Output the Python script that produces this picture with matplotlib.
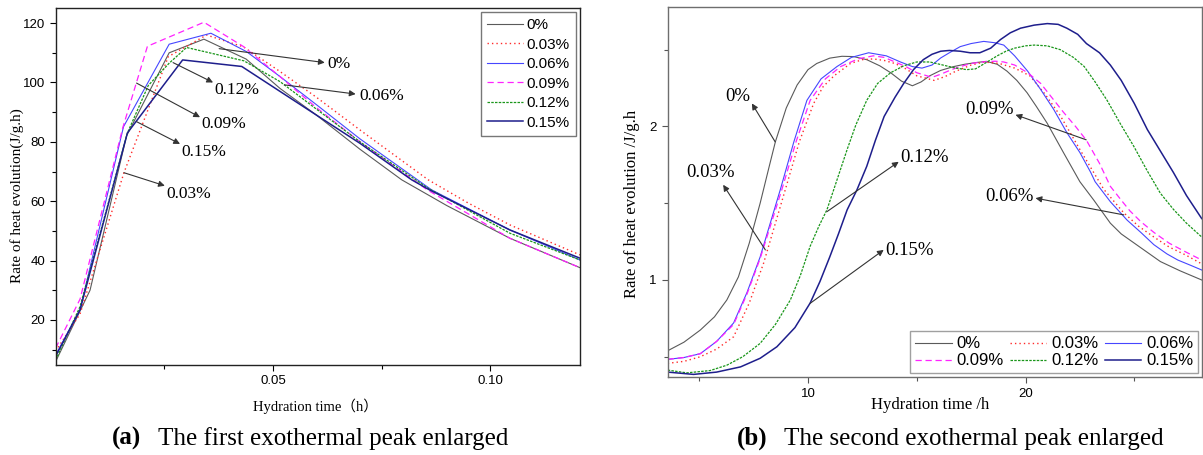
import matplotlib
matplotlib.use('Agg')
import matplotlib.pyplot as plt
from matplotlib.ticker import MultipleLocator, FixedLocator

plt.rcParams['font.family'] = ['Liberation Sans', 'DejaVu Sans']
SERIF = ['Liberation Serif', 'Noto Sans CJK SC', 'DejaVu Serif']

# ---------------- series meta ----------------
LABELS = ['0%', '0.03%', '0.06%', '0.09%', '0.12%', '0.15%']
COLORS = ['#5a5a5a', '#ff2a2a', '#4646ff', '#ff22ff', '#1a961a', '#1e1e8c']
STYLES = ['-', (0, (1, 2.2)), '-', (0, (5, 3)), (0, (2, 1)), '-']
WIDTHS = [0.8, 1.0, 0.8, 0.9, 0.9, 1.1]

# ---------------- (a) first peak ----------------
a00_x = [0.0, 0.0056, 0.0079, 0.0163, 0.0261, 0.0341, 0.0438, 0.0516, 0.060, 0.070, 0.0796, 0.090, 0.1045, 0.1206]
a00_y = [6.0, 23.0, 30.0, 82.0, 110.0, 114.6, 107.9, 98.0, 89.0, 77.5, 67.2, 58.5, 47.5, 37.6]
a03_x = [0.0, 0.0056, 0.0157, 0.0259, 0.0347, 0.0432, 0.0516, 0.060, 0.070, 0.0857, 0.095, 0.1045, 0.1206]
a03_y = [9.5, 22.0, 69.6, 108.7, 116.0, 112.0, 103.7, 95.0, 84.0, 67.2, 59.3, 52.0, 41.9]
a06_x = [0.0, 0.0056, 0.0156, 0.0261, 0.0357, 0.0439, 0.0516, 0.060, 0.070, 0.0865, 0.1045, 0.1206]
a06_y = [8.2, 23.5, 85.1, 112.9, 116.6, 110.4, 102.0, 92.5, 81.0, 63.8, 50.3, 40.2]
a09_x = [0.0, 0.0056, 0.0154, 0.0211, 0.0341, 0.0432, 0.0516, 0.060, 0.070, 0.0855, 0.1045, 0.1206]
a09_y = [10.5, 27.0, 84.6, 112.2, 120.3, 112.1, 102.0, 91.5, 80.0, 63.8, 47.5, 37.6]
a12_x = [0.0, 0.0056, 0.0165, 0.0213, 0.0261, 0.0301, 0.0433, 0.0516, 0.060, 0.070, 0.0855, 0.1045, 0.1206]
a12_y = [6.5, 24.5, 83.0, 99.0, 106.5, 111.8, 107.3, 100.3, 91.0, 80.0, 64.5, 49.2, 40.2]
a15_x = [0.0, 0.0056, 0.0165, 0.0292, 0.0428, 0.0516, 0.060, 0.070, 0.0819, 0.0860, 0.1045, 0.1206]
a15_y = [7.8, 23.4, 83.0, 107.6, 105.4, 97.0, 89.0, 79.5, 67.2, 63.8, 50.3, 40.8]

# labels in (a): text, arrow tail (on curve), arrow head, text left edge
a_notes = ['0%', '0.06%', '0.12%', '0.09%', '0.15%', '0.03%']
a_tail = [(0.0376, 111.4), (0.0526, 99.2), (0.0270, 106.7), (0.0186, 99.8), (0.0186, 86.8), (0.0157, 69.6)]
a_head = [(0.0619, 106.7), (0.0690, 96.1), (0.0362, 100.0), (0.0332, 88.3), (0.0286, 79.3), (0.0251, 65.2)]
a_text = [(0.0624, 106.2), (0.0699, 95.3), (0.0366, 97.5), (0.0336, 86.1), (0.0290, 76.7), (0.0254, 62.5)]

# ---------------- (b) second peak ----------------
b00_x = [3.55, 4.3, 5.05, 5.7, 6.27, 6.8, 7.3, 7.8, 8.2, 8.5, 9.0, 9.5, 10.0, 10.4, 11.0, 11.56, 12.1, 12.7, 13.3, 13.8, 14.3, 14.8, 15.2, 15.6, 16.1, 16.7, 17.2, 17.77, 18.2, 18.7, 19.15, 19.6, 20.07, 20.5, 21.0, 21.76, 22.5, 23.14, 23.9, 24.4, 25.0, 25.6, 26.2, 27.1, 28.1]
b00_y = [0.539, 0.595, 0.674, 0.76, 0.87, 1.02, 1.24, 1.50, 1.73, 1.90, 2.12, 2.27, 2.37, 2.41, 2.445, 2.457, 2.455, 2.435, 2.395, 2.35, 2.295, 2.265, 2.29, 2.33, 2.365, 2.39, 2.405, 2.417, 2.424, 2.405, 2.36, 2.30, 2.22, 2.13, 2.02, 1.826, 1.64, 1.52, 1.37, 1.30, 1.24, 1.18, 1.12, 1.06, 1.0]
b03_x = [3.55, 4.3, 5.05, 5.8, 6.58, 7.3, 7.96, 8.96, 9.6, 10.26, 10.7, 11.2, 11.95, 12.5, 13.0, 13.5, 14.0, 14.5, 15.0, 15.8, 16.3, 16.8, 17.5, 18.1, 18.8, 19.5, 20.2, 20.9, 21.6, 22.5, 23.6, 24.5, 25.2, 25.9, 26.6, 27.4, 28.1]
b03_y = [0.457, 0.47, 0.50, 0.55, 0.63, 0.85, 1.11, 1.59, 1.90, 2.15, 2.26, 2.33, 2.41, 2.435, 2.44, 2.43, 2.41, 2.375, 2.33, 2.30, 2.325, 2.36, 2.40, 2.42, 2.41, 2.38, 2.33, 2.21, 2.07, 1.85, 1.59, 1.44, 1.35, 1.28, 1.215, 1.16, 1.105]
b06_x = [3.55, 4.3, 5.05, 5.8, 6.58, 7.2, 7.8, 8.73, 9.35, 9.95, 10.6, 11.33, 12.0, 12.79, 13.6, 14.25, 14.8, 15.24, 15.7, 16.1, 16.5, 17.0, 17.5, 18.08, 18.6, 19.0, 19.5, 20.1, 20.7, 21.3, 21.9, 22.5, 23.0, 23.2, 23.9, 24.67, 25.3, 25.9, 26.5, 27.0, 27.6, 28.1]
b06_y = [0.483, 0.495, 0.52, 0.60, 0.72, 0.92, 1.15, 1.59, 1.90, 2.17, 2.31, 2.39, 2.45, 2.48, 2.46, 2.42, 2.39, 2.38, 2.40, 2.446, 2.48, 2.52, 2.54, 2.554, 2.545, 2.53, 2.46, 2.36, 2.24, 2.11, 1.96, 1.83, 1.70, 1.64, 1.51, 1.39, 1.31, 1.23, 1.17, 1.13, 1.095, 1.065]
b09_x = [3.55, 4.3, 5.05, 5.8, 6.58, 7.2, 7.8, 8.8, 9.45, 10.1, 10.8, 11.5, 12.3, 13.0, 13.5, 14.0, 14.5, 15.0, 15.7, 16.1, 16.6, 17.0, 17.5, 18.0, 18.6, 19.0, 19.5, 20.1, 20.7, 21.2, 21.76, 22.3, 22.8, 23.4, 23.9, 24.4, 24.8, 25.3, 25.9, 26.6, 27.4, 28.1]
b09_y = [0.483, 0.495, 0.52, 0.60, 0.71, 0.91, 1.14, 1.59, 1.90, 2.17, 2.31, 2.39, 2.44, 2.46, 2.45, 2.42, 2.39, 2.35, 2.32, 2.34, 2.37, 2.39, 2.41, 2.42, 2.425, 2.42, 2.40, 2.35, 2.28, 2.19, 2.09, 2.00, 1.91, 1.76, 1.61, 1.52, 1.45, 1.38, 1.31, 1.24, 1.18, 1.13]
b12_x = [3.55, 4.43, 5.5, 6.27, 7.0, 7.8, 8.5, 9.19, 9.65, 10.1, 10.5, 10.87, 11.18, 11.8, 12.2, 12.7, 13.2, 13.8, 14.4, 15.0, 15.6, 16.2, 16.8, 17.3, 17.7, 18.0, 18.35, 18.7, 19.1, 19.5, 20.0, 20.4, 21.0, 21.6, 22.2, 22.7, 23.2, 23.75, 24.35, 24.98, 25.6, 26.2, 26.8, 27.4, 28.1]
b12_y = [0.413, 0.395, 0.41, 0.445, 0.50, 0.587, 0.71, 0.87, 1.03, 1.22, 1.35, 1.457, 1.587, 1.85, 2.01, 2.17, 2.28, 2.35, 2.395, 2.42, 2.42, 2.40, 2.38, 2.37, 2.375, 2.40, 2.43, 2.46, 2.49, 2.51, 2.525, 2.53, 2.525, 2.50, 2.45, 2.39, 2.29, 2.17, 2.02, 1.87, 1.71, 1.565, 1.46, 1.37, 1.28]
b15_x = [3.55, 4.74, 5.8, 6.9, 7.8, 8.57, 9.4, 10.1, 10.55, 11.0, 11.4, 11.8, 12.25, 12.7, 13.1, 13.5, 14.0, 14.4, 14.85, 15.3, 15.7, 16.1, 16.5, 17.0, 17.45, 17.9, 18.4, 18.85, 19.3, 19.77, 20.4, 21.0, 21.5, 21.9, 22.4, 22.8, 23.4, 23.9, 24.4, 25.0, 25.6, 26.2, 26.8, 27.4, 28.1]
b15_y = [0.40, 0.385, 0.40, 0.434, 0.49, 0.565, 0.69, 0.85, 0.99, 1.15, 1.30, 1.457, 1.587, 1.74, 1.91, 2.065, 2.19, 2.28, 2.37, 2.435, 2.47, 2.49, 2.495, 2.49, 2.48, 2.48, 2.51, 2.566, 2.61, 2.64, 2.66, 2.67, 2.665, 2.64, 2.60, 2.54, 2.48, 2.40, 2.30, 2.15, 1.98, 1.84, 1.70, 1.55, 1.40]

b_notes = ['0%', '0.03%', '0.12%', '0.15%', '0.09%', '0.06%']
b_tail = [(8.49, 1.90), (8.04, 1.196), (10.87, 1.445), (10.1, 0.848), (22.79, 1.913), (24.52, 1.424)]
b_head = [(7.42, 2.15), (6.1, 1.62), (14.17, 1.77), (13.48, 1.196), (19.54, 2.076), (20.46, 1.533)]
b_text = [(6.75, 2.196), (5.5, 1.70), (14.25, 1.80), (13.56, 1.19), (19.44, 2.11), (20.37, 1.543)]
b_ha = ['center', 'center', 'left', 'left', 'right', 'right']

A_SERIES = [(a00_x, a00_y), (a03_x, a03_y), (a06_x, a06_y), (a09_x, a09_y), (a12_x, a12_y), (a15_x, a15_y)]
B_SERIES = [(b00_x, b00_y), (b03_x, b03_y), (b06_x, b06_y), (b09_x, b09_y), (b12_x, b12_y), (b15_x, b15_y)]

W, H = 1203, 455
fig = plt.figure(figsize=(W / 100, H / 100), dpi=100)
axA = fig.add_axes([55.7 / W, 90 / H, 523.8 / W, 356.7 / H])
axB = fig.add_axes([667.7 / W, 78.3 / H, 534 / W, 370 / H])

ARROW = dict(arrowstyle='-|>', color='#333333', lw=0.8, mutation_scale=9, shrinkA=0, shrinkB=0)

lines = []
for (x, y), lab, c, ls, lw in zip(A_SERIES, LABELS, COLORS, STYLES, WIDTHS):
    ln, = axA.plot(x, y, color=c, ls=ls, lw=lw, label=lab)
    lines.append(ln)
for (x, y), lab, c, ls, lw in zip(B_SERIES, LABELS, COLORS, STYLES, WIDTHS):
    axB.plot(x, y, color=c, ls=ls, lw=lw, label=lab, solid_joinstyle='round')

for txt, t, h, p in zip(a_notes, a_tail, a_head, a_text):
    axA.annotate('', xy=h, xytext=t, arrowprops=ARROW)
    axA.text(p[0], p[1], txt, family=SERIF, fontsize=12.5, ha='left', va='center')
for txt, t, h, p, ha in zip(b_notes, b_tail, b_head, b_text, b_ha):
    axB.annotate('', xy=h, xytext=t, arrowprops=ARROW)
    axB.text(p[0], p[1], txt, family=SERIF, fontsize=13.5, ha=ha, va='center')

# axes (a)
axA.set_xlim(0, 0.1205)
axA.set_ylim(4.8, 125)
axA.xaxis.set_major_locator(FixedLocator([0.05, 0.10]))
axA.xaxis.set_minor_locator(FixedLocator([0.025, 0.075]))
axA.set_xticklabels(['0.05', '0.10'])
axA.yaxis.set_major_locator(MultipleLocator(20))
axA.yaxis.set_minor_locator(MultipleLocator(10))
axA.tick_params(which='major', direction='out', length=4, width=0.8, labelsize=9.5)
axA.tick_params(which='minor', direction='out', length=3, width=0.8)
for s in axA.spines.values():
    s.set_linewidth(1.0)
    s.set_color('#222222')

legA = axA.legend(handles=lines, loc='upper right', fontsize=11, frameon=True, fancybox=False,
                  edgecolor='#555555', borderaxespad=0.25, handlelength=2.4, handletextpad=0.2,
                  labelspacing=0.36, borderpad=0.4)
legA.get_frame().set_linewidth(1.0)

# axes (b)
axB.set_xlim(3.55, 28.1)
axB.set_ylim(0.37, 2.78)
axB.xaxis.set_major_locator(FixedLocator([10, 20]))
axB.xaxis.set_minor_locator(FixedLocator([5, 15, 25]))
axB.yaxis.set_major_locator(FixedLocator([1, 2]))
axB.yaxis.set_minor_locator(FixedLocator([0.5, 1.5, 2.5]))
axB.tick_params(which='major', direction='out', length=4.3, width=0.8, labelsize=9.5, color='#555555')
axB.tick_params(which='minor', direction='out', length=3, width=0.8, color='#555555')
for s in axB.spines.values():
    s.set_linewidth(1.0)
    s.set_color('#6e6e6e')

order = [0, 3, 1, 4, 2, 5]
hB, lB = axB.get_legend_handles_labels()
legB = axB.legend([hB[i] for i in order], [lB[i] for i in order], loc='lower right', ncol=3,
                  fontsize=12, frameon=True, fancybox=False, edgecolor='#888888',
                  borderaxespad=0.2, handlelength=2.2, handletextpad=0.3, columnspacing=0.35,
                  labelspacing=0.12, borderpad=0.3)
legB.get_frame().set_linewidth(1.0)

# axis labels
fig.text(315 / W, 1 - 406 / H, 'Hydration time（h）', family=SERIF, fontsize=10.5, ha='center', va='center')
fig.text(17 / W, 1 - 196 / H, 'Rate of heat evolution(J/g.h)', family=SERIF, fontsize=11,
         rotation=90, ha='center', va='center')
fig.text(930 / W, 1 - 405 / H, 'Hydration time /h', family=SERIF, fontsize=12, ha='center', va='center')
fig.text(632 / W, 1 - 204 / H, 'Rate of heat evolution /J/g.h', family=SERIF, fontsize=12,
         rotation=90, ha='center', va='center')

# panel captions
base = 1 - 445 / H
fig.text(111.5 / W, base, '(a)', family=SERIF, fontsize=18, weight='bold', ha='left', va='baseline')
fig.text(157.7 / W, base, 'The first exothermal peak enlarged', family=SERIF, fontsize=18,
         ha='left', va='baseline')
fig.text(736.5 / W, base, '(b)', family=SERIF, fontsize=18, weight='bold', ha='left', va='baseline')
fig.text(783.8 / W, base, 'The second exothermal peak enlarged', family=SERIF, fontsize=18,
         ha='left', va='baseline')

fig.savefig('out.png', dpi=100)
